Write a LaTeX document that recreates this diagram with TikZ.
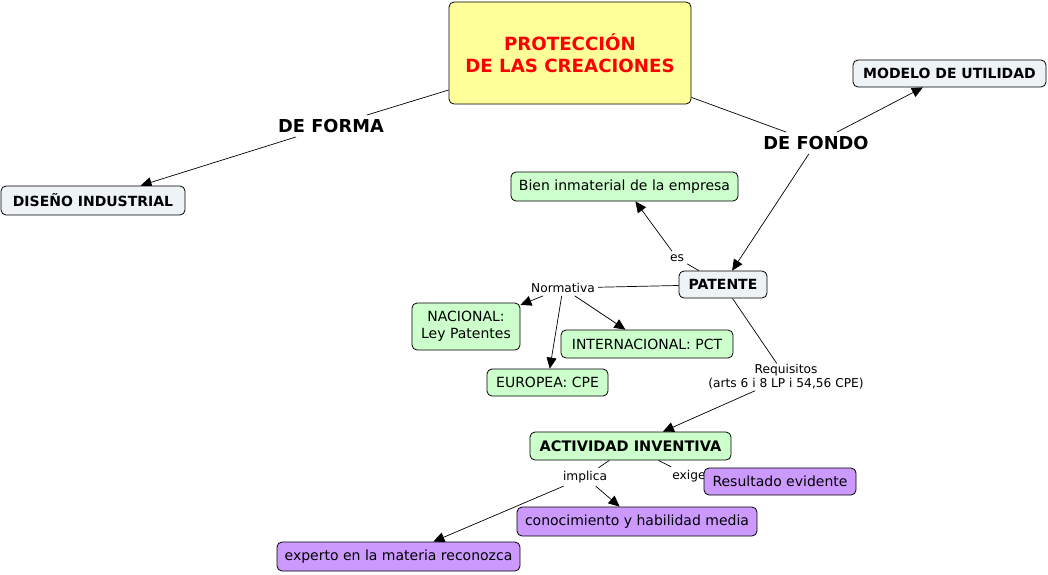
\documentclass[tikz,border=0pt]{standalone}
\usepackage{fontspec}
\setmainfont{DejaVu Sans}
\usetikzlibrary{arrows.meta,backgrounds}
\definecolor{ttl}{HTML}{FFFF99}
\definecolor{gry}{HTML}{EEF4F6}
\definecolor{grn}{HTML}{CCFFCC}
\definecolor{prp}{HTML}{CC99FF}
\begin{document}
\begin{tikzpicture}[x=1pt,y=-1pt,
  box/.style={draw=black,line width=0.8pt,rounded corners=5pt,inner sep=0pt,align=center,font=\fontsize{14}{17}\selectfont},
  gbox/.style={box,fill=gry,font=\fontsize{14}{17}\selectfont\bfseries},
  nbox/.style={box,fill=grn},
  pbox/.style={box,fill=prp},
  lab/.style={inner sep=3pt,align=center,font=\fontsize{12.2}{14}\selectfont},
  big/.style={inner sep=4pt,font=\fontsize{17.8}{20}\selectfont\bfseries},
  con/.style={line width=0.7pt},
  arr/.style={con,-{Triangle[length=11pt,width=10pt]}}]
\useasboundingbox (0,0) rectangle (1048,574);
\node[box,fill=ttl,minimum width=242pt,minimum height=102pt,text=red,font=\fontsize{18.2}{22}\selectfont\bfseries] (title) at (570,53) {PROTECCIÓN\\DE LAS CREACIONES};
\node[gbox,minimum width=193pt,minimum height=27pt] (modelo) at (949.5,73.5) {MODELO DE UTILIDAD};
\node[gbox,minimum width=184pt,minimum height=29pt] (diseno) at (93,200.5) {DISEÑO INDUSTRIAL};
\node[nbox,minimum width=227pt,minimum height=29pt] (bien) at (624.5,186.5) {Bien inmaterial de la empresa};
\node[gbox,minimum width=88pt,minimum height=27pt] (patente) at (723,284.5) {PATENTE};
\node[nbox,minimum width=108pt,minimum height=47pt] (nacional) at (466,326.5) {NACIONAL:\\Ley Patentes};
\node[nbox,minimum width=172pt,minimum height=28pt] (inter) at (647,344) {INTERNACIONAL: PCT};
\node[nbox,minimum width=121pt,minimum height=27pt] (europea) at (547.5,382.5) {EUROPEA: CPE};
\node[box,fill=grn,font=\fontsize{14.5}{17}\selectfont\bfseries,minimum width=201pt,minimum height=28pt] (actividad) at (630.5,446) {ACTIVIDAD INVENTIVA};
\node[lab] (exige) at (689,476) {exige};
\node[pbox,minimum width=152pt,minimum height=27pt] (resultado) at (780,481.5) {Resultado evidente};
\node[pbox,minimum width=240pt,minimum height=29pt] (conoc) at (637,521.5) {conocimiento y habilidad media};
\node[pbox,minimum width=243pt,minimum height=29pt] (experto) at (398.5,556.5) {experto en la materia reconozca};
\node[big] (deforma) at (331,126) {DE FORMA};
\node[big] (defondo) at (816,143) {DE FONDO};
\node[lab] (es) at (677,258) {es};
\node[lab] (normativa) at (563,288) {Normativa};
\node[lab,inner sep=1pt] (requisitos) at (786,377) {Requisitos\\(arts 6 i 8 LP i 54,56 CPE)};
\node[lab] (implica) at (585,477) {implica};
\begin{scope}[on background layer]
\draw[con] (title) -- (deforma);
\draw[arr] (deforma) -- (diseno);
\draw[con] (title) -- (defondo);
\draw[arr] (defondo) -- (modelo);
\draw[arr] (defondo) -- (patente);
\draw[con] (patente) -- (es);
\draw[arr] (es) -- (bien);
\draw[con] (patente) -- (normativa);
\draw[arr] (normativa) -- (nacional);
\draw[arr] (normativa) -- (europea);
\draw[arr] (normativa) -- (inter);
\draw[con] (patente) -- (requisitos);
\draw[arr] (requisitos) -- (actividad);
\draw[con] (actividad) -- (implica);
\draw[arr] (implica) -- (experto);
\draw[arr] (implica) -- (conoc);
\draw[con] (actividad) -- (exige);
\draw[arr] (exige) -- (resultado);
\end{scope}
\end{tikzpicture}
\end{document}
